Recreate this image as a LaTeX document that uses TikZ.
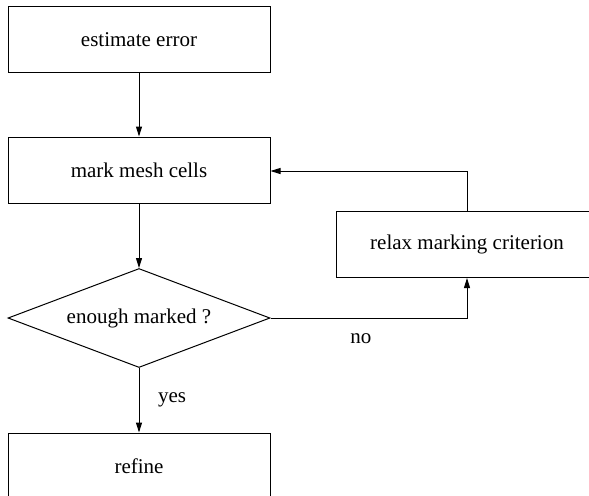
\documentclass[tikz,border=0pt]{standalone}
\usepackage{fontspec}
\setmainfont{Liberation Serif}
\usetikzlibrary{shapes.geometric,arrows.meta}
\tikzset{
  stepbox/.style={draw, rectangle, minimum width=131pt, minimum height=33pt, inner sep=0pt},
  testbox/.style={draw, diamond, aspect=2.65, minimum width=131pt, minimum height=49.5pt, inner sep=0pt},
  flow/.style={-{Triangle[length=5pt,width=3pt]}}
}
\begin{document}
\begin{tikzpicture}[x=0.5pt,y=-0.5pt,line width=0.5pt,font=\fontsize{10.5}{12}\selectfont]
    \useasboundingbox (0,0) rectangle (589,495);

    \node[stepbox] (estimate) at (139,39.5) {estimate error};
    \node[stepbox] (mark) at (139,170) {mark mesh cells};
    \node[testbox] (enough) at (139,318) {enough marked ?};
    \node[stepbox] (refine) at (139,466) {refine};
    \node[stepbox] (relax) at (467,244.5) {relax marking criterion};

    \coordinate (back) at (467,171);

    \draw[flow] (estimate) -- (mark);
    \draw[flow] (mark) -- (enough);
    \draw[flow] (enough) -- node[right=6pt] {yes} (refine);
    \draw[flow] (enough.east) -| node[pos=0.23,below=4pt] {no} (relax.south);
    \draw[flow] (relax.north) -- (back) -- (back -| mark.east);
\end{tikzpicture}
\end{document}
